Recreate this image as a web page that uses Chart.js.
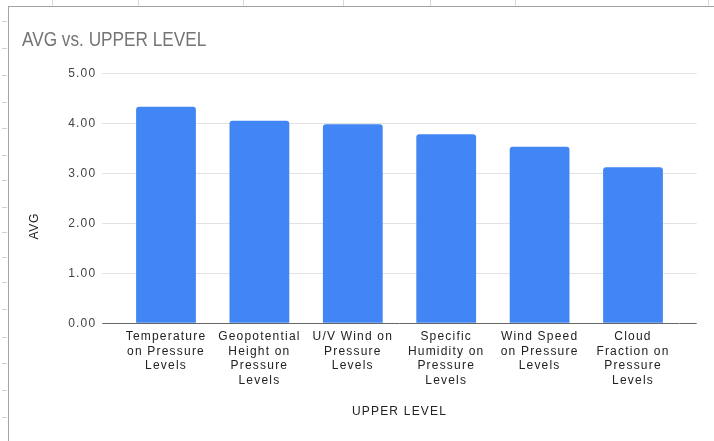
<!DOCTYPE html>
<html><head><meta charset="utf-8">
<script src="https://cdn.jsdelivr.net/npm/chart.js@4/dist/chart.umd.min.js"></script>
<style>
html,body{margin:0;padding:0;background:#fff;width:714px;height:441px;overflow:hidden;position:relative}
.vl{position:absolute;top:0;width:1px;height:6px;background:#d9d9d9}
.hl{position:absolute;left:2px;width:5px;height:1px;background:#d0d0d0}
#frame{position:absolute;left:8px;top:6px;width:706px;height:435px;border-left:1px solid #a3a3a3;border-top:1px solid #a3a3a3;box-sizing:border-box}
#wrap{position:absolute;left:9px;top:7px;width:705px;height:434px;background:#fff}
</style></head>
<body>
<div class="vl" style="left:52px"></div><div class="vl" style="left:138px"></div><div class="vl" style="left:243px"></div>
<div class="vl" style="left:343px"></div><div class="vl" style="left:430px"></div><div class="vl" style="left:515px"></div>
<div class="vl" style="left:708px"></div>
<div class="hl" style="top:21px"></div><div class="hl" style="top:48px"></div><div class="hl" style="top:75px"></div>
<div class="hl" style="top:102px"></div><div class="hl" style="top:128px"></div><div class="hl" style="top:155px"></div>
<div class="hl" style="top:180px"></div><div class="hl" style="top:207px"></div><div class="hl" style="top:232px"></div>
<div class="hl" style="top:257px"></div><div class="hl" style="top:282px"></div><div class="hl" style="top:309px"></div>
<div class="hl" style="top:337px"></div><div class="hl" style="top:363px"></div><div class="hl" style="top:390px"></div>
<div class="hl" style="top:417px"></div>
<div id="frame"></div>
<div id="wrap"><canvas id="c" width="705" height="434"></canvas></div>
<script>
const chartTitle = 'AVG vs. UPPER LEVEL';
const xAxisTitle = 'UPPER LEVEL';
const yAxisTitle = 'AVG';
const categories = [
  ['Temperature', 'on Pressure', 'Levels'],
  ['Geopotential', 'Height on', 'Pressure', 'Levels'],
  ['U/V Wind on', 'Pressure', 'Levels'],
  ['Specific', 'Humidity on', 'Pressure', 'Levels'],
  ['Wind Speed', 'on Pressure', 'Levels'],
  ['Cloud', 'Fraction on', 'Pressure', 'Levels']
];
const avgValues = [4.33, 4.05, 3.98, 3.78, 3.53, 3.12];
const yTickValues = [0, 1, 2, 3, 4, 5];

const LABEL_FONT = "'Liberation Sans', Arial, sans-serif";
const gridColor = (c) => (c.tick && c.tick.value === 0) ? '#666666' : '#e2e2e2';

const stylePlugin = {
  id: 'stylePlugin',
  beforeDraw(chart) {
    const ctx = chart.ctx;
    ctx.letterSpacing = '1.2px';
    const tb = chart.titleBlock;
    if (tb && !tb._wrapped) {
      const o = tb.draw;
      tb.draw = function (a) {
        ctx.save();
        ctx.letterSpacing = '0px';
        ctx.translate(this.left, 0);
        ctx.scale(0.82, 1);
        ctx.translate(-this.left, 0);
        o.call(this, a);
        ctx.restore();
      };
      tb._wrapped = true;
    }
    const ys = chart.scales.y;
    if (ys && !ys._wrapped) {
      const o = ys.drawTitle;
      ys.drawTitle = function () { ctx.save(); ctx.letterSpacing = '0.6px'; ctx.translate(0, 28); o.call(this); ctx.restore(); };
      ys._wrapped = true;
    }
  },
  afterDraw(chart) { chart.ctx.letterSpacing = '0px'; }
};

new Chart(document.getElementById('c'), {
  type: 'bar',
  data: {
    labels: categories,
    datasets: [{
      label: yAxisTitle,
      data: avgValues,
      backgroundColor: '#4285f4',
      borderRadius: 3,
      barPercentage: 0.64,
      categoryPercentage: 1.0,
      yAxisID: 'y'
    }]
  },
  options: {
    responsive: false,
    animation: false,
    events: [],
    layout: { padding: { left: 13, right: 17.3, top: 0, bottom: 21.8 } },
    plugins: {
      legend: { display: false },
      tooltip: { enabled: false },
      title: {
        display: true,
        text: chartTitle,
        align: 'start',
        color: '#757575',
        font: { family: LABEL_FONT, size: 21, weight: 'normal', lineHeight: 1.2 },
        padding: { top: 20.4, bottom: 20.7 }
      }
    },
    scales: {
      x: {
        type: 'category',
        offset: true,
        grid: { display: false, drawTicks: false },
        border: { display: false },
        ticks: {
          color: '#222222',
          font: { family: LABEL_FONT, size: 12, lineHeight: 1.2 },
          padding: 6.5,
          maxRotation: 0,
          minRotation: 0,
          autoSkip: false
        },
        title: {
          display: true,
          text: xAxisTitle,
          color: '#222222',
          font: { family: LABEL_FONT, size: 12, lineHeight: 1.2 },
          padding: { top: 17.4, bottom: 0 }
        },
        afterFit(s) { s.height = 95.9; }
      },
      y: {
        position: 'left',
        min: 0,
        max: 5,
        afterBuildTicks(s) { s.ticks = yTickValues.map(v => ({ value: v })); },
        grid: { color: gridColor, lineWidth: 1, tickLength: 17, drawTicks: true },
        border: { display: false },
        ticks: {
          color: '#444444',
          font: { family: LABEL_FONT, size: 12 },
          padding: 6,
          callback: (v) => Number(v).toFixed(2)
        },
        title: {
          display: true,
          text: yAxisTitle,
          color: '#222222',
          font: { family: LABEL_FONT, size: 12, lineHeight: 1.2 },
          padding: { top: 5.8, bottom: 0 }
        },
        afterFit(s) { s.width = 97.3; }
      },
      y2: {
        position: 'right',
        min: 0,
        max: 5,
        afterBuildTicks(s) { s.ticks = yTickValues.map(v => ({ value: v })); },
        grid: { color: gridColor, lineWidth: 1, tickLength: 17, drawTicks: true, drawOnChartArea: false },
        border: { display: false },
        ticks: { display: false },
        afterFit(s) { s.width = 17; }
      }
    }
  },
  plugins: [stylePlugin]
});
</script>
</body></html>
